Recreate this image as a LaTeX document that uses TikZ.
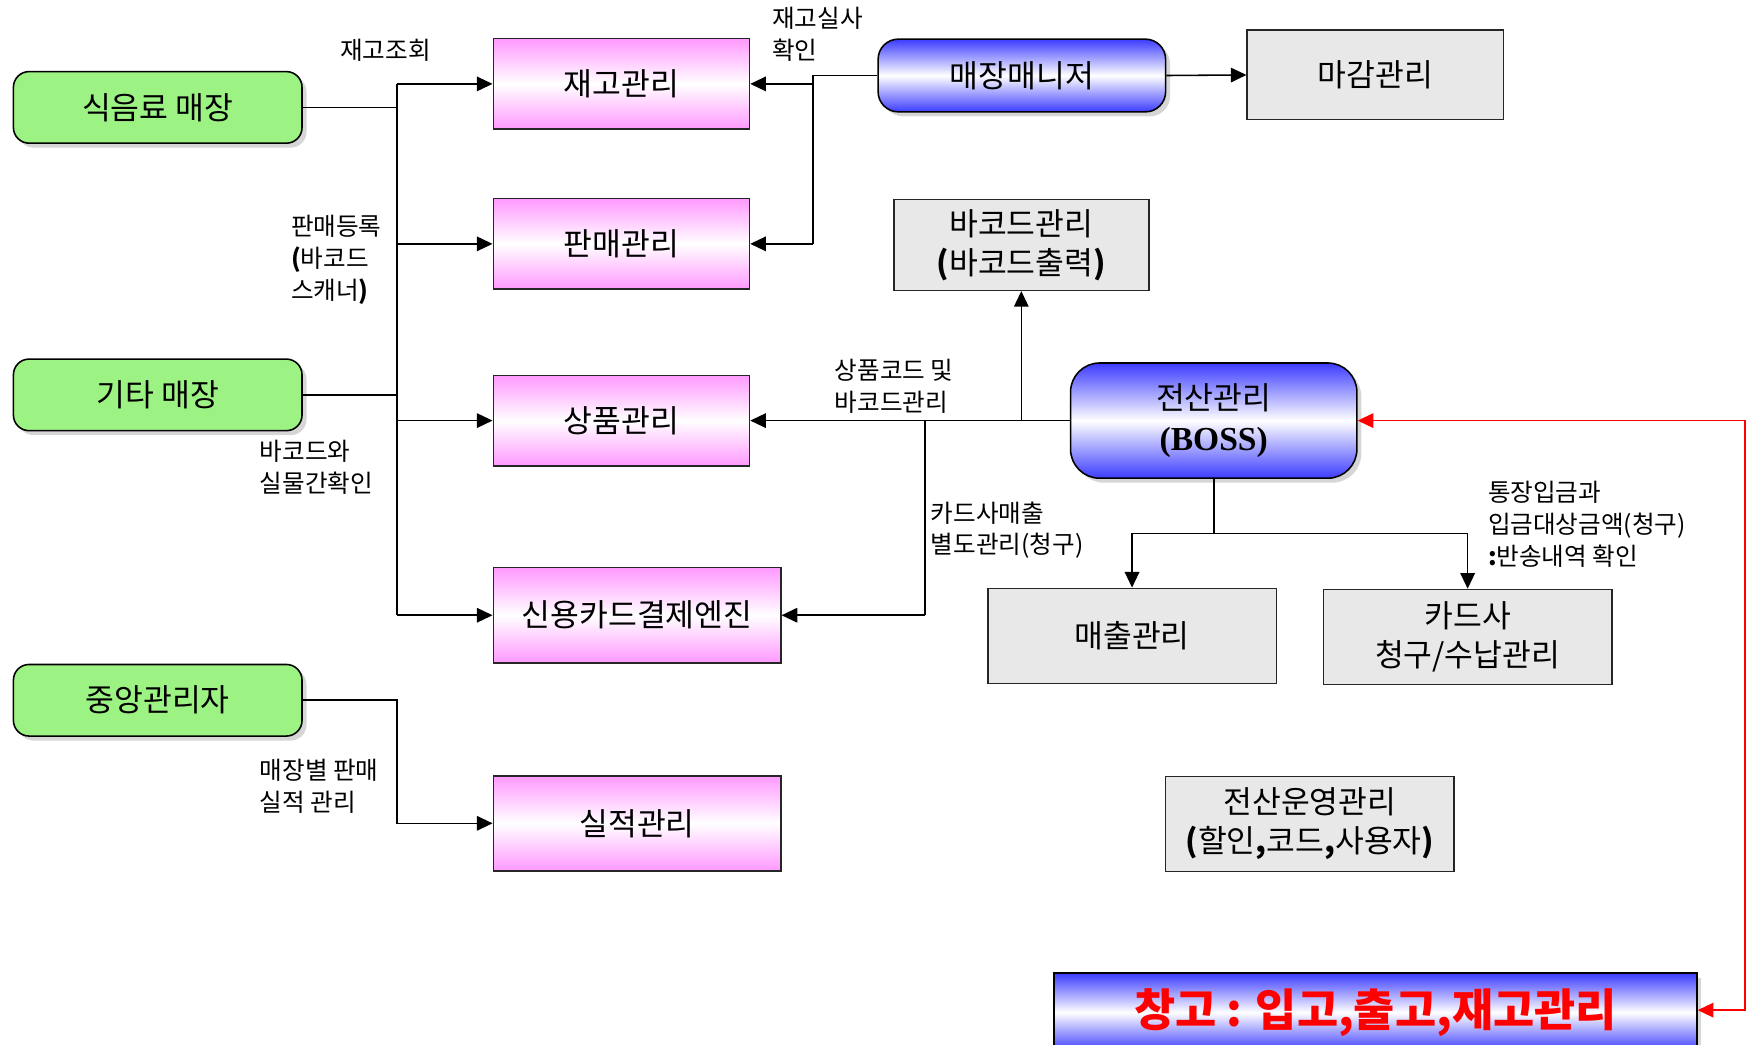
\documentclass[tikz,border=0pt]{standalone}
\usepackage{fontspec}
\setmainfont{Noto Sans CJK KR}
\newfontfamily\bossfont{Liberation Serif}
\usetikzlibrary{arrows.meta,shadows}
\definecolor{storegreen}{HTML}{9CF384}
\definecolor{pinkedge}{HTML}{FF99FF}
\definecolor{blueedge}{HTML}{3C3CFF}
\definecolor{boxgray}{HTML}{E8E8E8}
\definecolor{linkred}{HTML}{FF0000}
\newcommand{\bp}[1]{{\bfseries #1}}
\tikzset{
  shade/.style={drop shadow={shadow xshift=4pt, shadow yshift=-4pt, fill=black!16, opacity=1}},
  store/.style={draw=black, line width=1.4pt, rounded corners=14pt, fill=storegreen, shade,
    minimum width=258pt, minimum height=64pt, inner sep=0pt, font=\fontsize{28}{32}\selectfont},
  task/.style={draw=black!85, line width=1.4pt, top color=pinkedge, bottom color=pinkedge, middle color=white,
    minimum height=81pt, inner sep=0pt, font=\fontsize{28}{32}\selectfont},
  chief/.style={draw=black, line width=1.4pt, top color=blueedge, bottom color=blueedge, middle color=white, shade,
    inner sep=0pt, align=center, font=\fontsize{28}{36}\selectfont},
  plain/.style={draw=black!85, line width=1.4pt, fill=boxgray, minimum width=258pt, minimum height=85pt,
    inner sep=0pt, align=center, font=\fontsize{28}{35}\selectfont},
  wire/.style={draw=black, line width=1.4pt},
  conn/.style={wire, -{Triangle[length=14pt, width=13pt]}},
  lab/.style={anchor=west, align=left, inner sep=0pt, font=\fontsize{22}{28.5}\selectfont},
}
\begin{document}
\begin{tikzpicture}[x=1pt, y=-1pt]
  \useasboundingbox (0,0) rectangle (1568,934);

  % stores on the left
  \node[store] (food) at (141,96) {식음료 매장};
  \node[store] (etc) at (141,353) {기타 매장};
  \node[store] (hq) at (141,626) {중앙관리자};

  % store tasks
  \node[task, minimum width=229pt] (stock) at (555.5,75) {재고관리};
  \node[task, minimum width=229pt] (sales) at (555.5,218) {판매관리};
  \node[task, minimum width=229pt] (goods) at (555.5,376) {상품관리};
  \node[task, minimum width=257pt, minimum height=85pt] (card) at (569.5,550) {신용카드결제엔진};
  \node[task, minimum width=257pt, minimum height=85pt] (perf) at (569.5,736) {실적관리};

  % managers and back office
  \node[chief, rounded corners=18pt, minimum width=257pt, minimum height=65pt] (mgr) at (913.5,67.5) {매장매니저};
  \node[plain, minimum width=229pt, minimum height=80pt] (close) at (1229.5,67) {마감관리};
  \node[plain, minimum width=228pt, minimum height=81pt] (barcode) at (913,219) {바코드관리\\\bp{(}바코드출력\bp{)}};
  \node[chief, rounded corners=26pt, minimum width=256pt, minimum height=103pt] (boss) at (1085,376)
    {전산관리\\{\bossfont\bfseries\fontsize{30}{36}\selectfont (BOSS)}};
  \node[plain] (salesmgmt) at (1012,568.5) {매출관리};
  \node[plain] (cardco) at (1312,569.5) {카드사\\청구/수납관리};
  \node[plain] (ops) at (1171,736.5) {전산운영관리\\\bp{(}할인\bp{,}코드\bp{,}사용자\bp{)}};
  \node[chief, rounded corners=0pt, minimum width=575pt, minimum height=70pt, drop shadow={opacity=0},
    text=linkred, font=\fontsize{40}{44}\selectfont\bfseries] (depot) at (1229.5,905)
    {\raisebox{-5pt}{창고 : 입고,출고,재고관리}};

  % left bus
  \coordinate (bus) at (355,0);
  \draw[wire] (food.east) -- (bus |- food.east);
  \draw[wire] (etc.east) -- (bus |- etc.east);
  \draw[wire] (bus |- stock.west) -- (bus |- card.west);
  \draw[conn] (bus |- stock.west) -- (stock.west);
  \draw[conn] (bus |- sales.west) -- (sales.west);
  \draw[conn] (bus |- goods.west) -- (goods.west);
  \draw[conn] (bus |- card.west) -- (card.west);
  \draw[conn] (hq.east) -| (bus |- perf.west) -- (perf.west);

  % manager links
  \coordinate (mgrbus) at (727,0);
  \draw[wire] (mgr.west) -- (mgrbus |- mgr.west) -- (mgrbus |- sales.east);
  \draw[conn] (mgrbus |- stock.east) -- (stock.east);
  \draw[conn] (mgrbus |- sales.east) -- (sales.east);
  \draw[conn] (mgr.east) -- (close.west);

  % BOSS links
  \coordinate (cardbus) at (827,0);
  \coordinate (split) at (1085,477);
  \draw[conn] (boss.west) -- (goods.east);
  \draw[conn] (barcode.south |- boss.west) -- (barcode.south);
  \draw[wire] (cardbus |- boss.west) -- (cardbus |- card.east);
  \draw[conn] (cardbus |- card.east) -- (card.east);
  \draw[wire] (boss.south) -- (split);
  \draw[conn] (split) -| (salesmgmt.north);
  \draw[conn] (split) -| (cardco.north);

  % warehouse link
  \coordinate (redturn) at (1560,903);
  \draw[draw=linkred, line width=1.4pt, {Triangle[length=14pt, width=13pt]}-{Triangle[length=14pt, width=13pt]}]
    (depot.east |- redturn) -- (redturn) |- (boss.east);

  % connector texts
  \node[lab] (l1) at (304,45) {재고조회};
  \node[lab] (l2) at (260,232) {판매등록\\\bp{(}바코드\\스캐너\bp{)}};
  \node[lab] (l3) at (232,418) {바코드와\\실물간확인};
  \node[lab] (l4) at (232,703) {매장별 판매\\실적 관리};
  \node[lab] (l5) at (690,31) {재고실사\\확인};
  \node[lab] (l6) at (746,345) {상품코드 및\\바코드관리};
  \node[lab] (l7) at (832,474) {카드사매출\\별도관리(청구)};
  \node[lab] (l8) at (1330,469) {통장입금과\\입금대상금액(청구)\\\bp{:}반송내역 확인};
\end{tikzpicture}
\end{document}
